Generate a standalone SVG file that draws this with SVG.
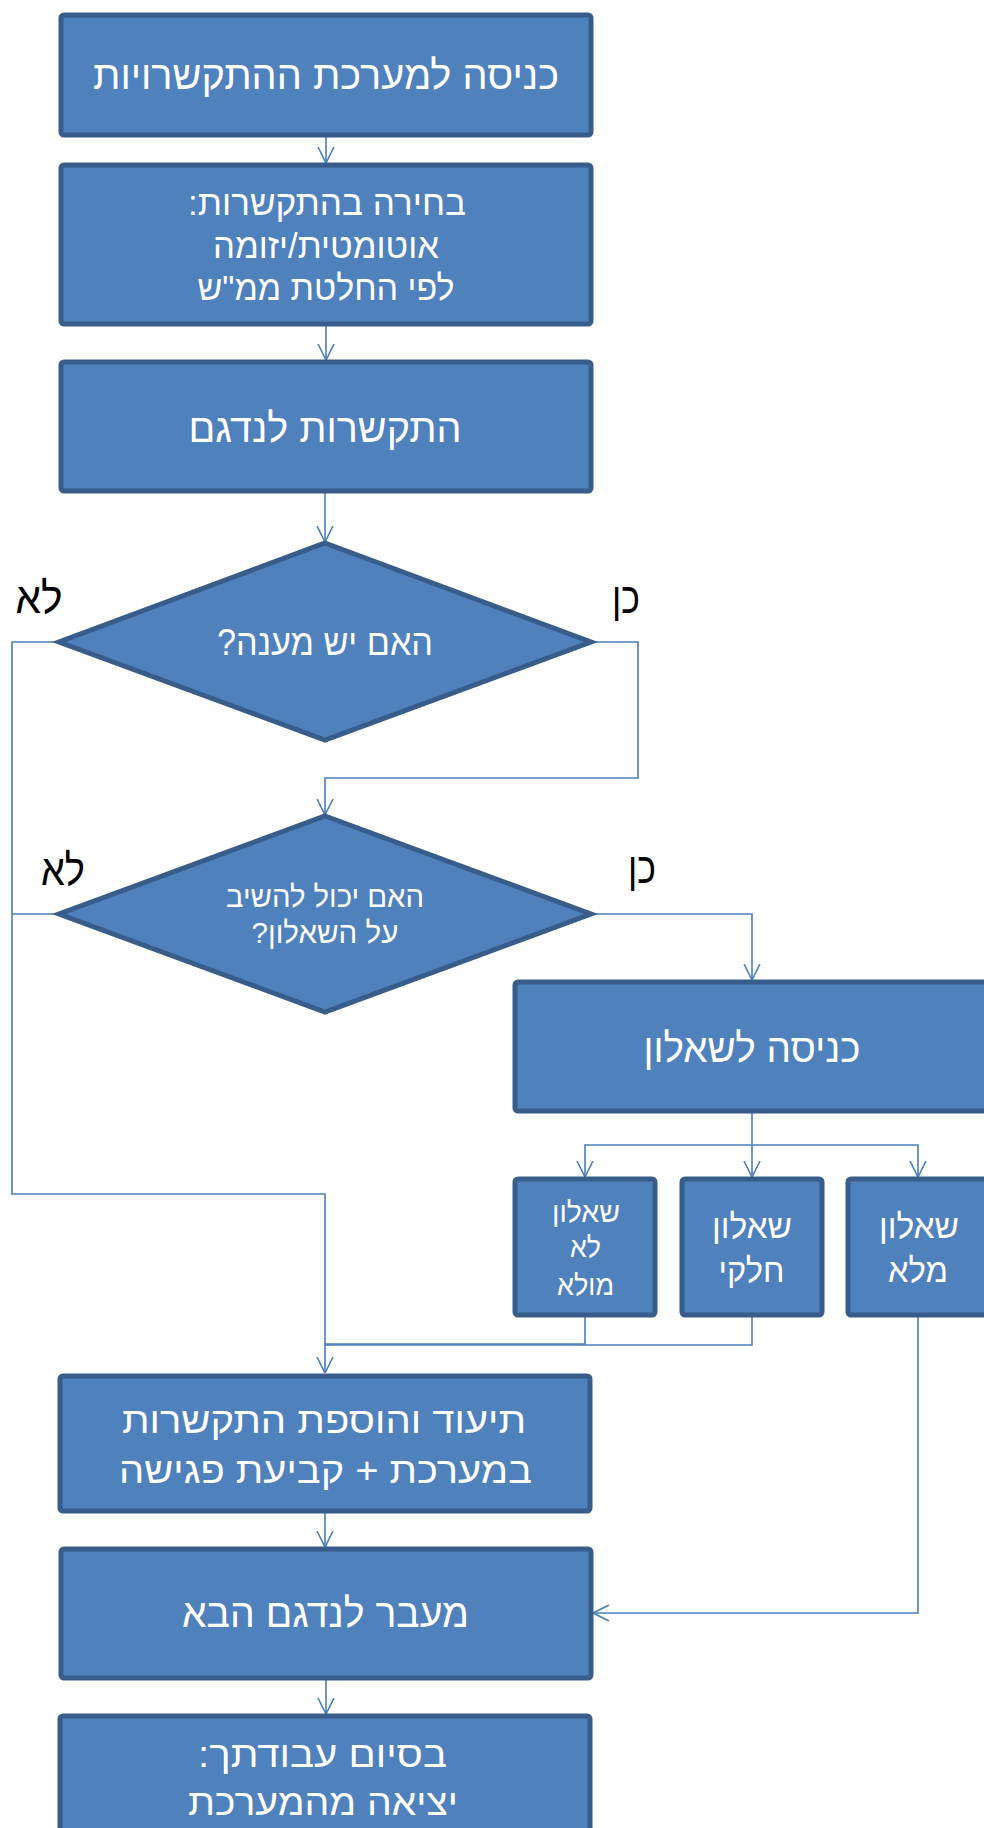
<svg xmlns="http://www.w3.org/2000/svg" width="984" height="1828" viewBox="0 0 984 1828">
  <style>
    .box { fill: #4F81BD; stroke: #385D8A; stroke-width: 5; }
    .t { fill: #FFFFFF; font-family: "Liberation Sans", "DejaVu Sans", sans-serif; text-anchor: middle; direction: rtl; }
    .lbl { fill: #000000; font-family: "Liberation Sans", "DejaVu Sans", sans-serif; text-anchor: middle; direction: rtl; font-size: 44px; }
    .c { fill: none; stroke: #4A7EBB; stroke-width: 1.6; }
  </style>
  <defs>
    <marker id="arr" viewBox="0 0 16 18" refX="16" refY="9" markerWidth="16" markerHeight="18" markerUnits="userSpaceOnUse" orient="auto">
      <path d="M0,1 L16,9 L0,17" fill="none" stroke="#4A7EBB" stroke-width="1.6"/>
    </marker>
  </defs>

  <!-- connectors -->
  <g id="connectors">
    <path class="c" d="M326,137 V163" marker-end="url(#arr)"/>
    <path class="c" d="M326,326 V360" marker-end="url(#arr)"/>
    <path class="c" d="M325,493 V542" marker-end="url(#arr)"/>
    <path class="c" d="M591,642 H638 V778 H325 V815" marker-end="url(#arr)"/>
    <path class="c" d="M59,642 H12 V1194 H325 V1373" marker-end="url(#arr)"/>
    <path class="c" d="M591,914 H752 V980" marker-end="url(#arr)"/>
    <path class="c" d="M59,914 H12"/>
    <path class="c" d="M752,1113 V1177" marker-end="url(#arr)"/>
    <path class="c" d="M752,1145 H585 V1177" marker-end="url(#arr)"/>
    <path class="c" d="M752,1145 H918 V1177" marker-end="url(#arr)"/>
    <path class="c" d="M585,1316 V1344 H325"/>
    <path class="c" d="M752,1316 V1345 H325"/>
    <path class="c" d="M918,1316 V1613 H593" marker-end="url(#arr)"/>
    <path class="c" d="M325,1513 V1547" marker-end="url(#arr)"/>
    <path class="c" d="M326,1680 V1714" marker-end="url(#arr)"/>
  </g>

  <g id="enter-system">
    <rect class="box" x="61" y="15" width="530" height="120" rx="3"/>
    <text class="t" x="326" y="89" font-size="40" textLength="466" lengthAdjust="spacingAndGlyphs">כניסה למערכת ההתקשרויות</text>
  </g>

  <g id="choose-contact">
    <rect class="box" x="61" y="165" width="530" height="159" rx="3"/>
    <text class="t" x="327" y="215" font-size="35" textLength="278" lengthAdjust="spacingAndGlyphs">בחירה בהתקשרות:</text>
    <text class="t" x="326" y="258" font-size="35" textLength="226" lengthAdjust="spacingAndGlyphs">אוטומטית/יזומה</text>
    <text class="t" x="326" y="300" font-size="35" textLength="257" lengthAdjust="spacingAndGlyphs">לפי החלטת ממ"ש</text>
  </g>

  <g id="contact-sample">
    <rect class="box" x="61" y="362" width="530" height="129" rx="3"/>
    <text class="t" x="325" y="442" font-size="40" textLength="273" lengthAdjust="spacingAndGlyphs">התקשרות לנדגם</text>
  </g>

  <g id="answered">
    <polygon class="box" points="325,543 591,642 325,740 59,642"/>
    <text class="t" x="325" y="655" font-size="36" textLength="216" lengthAdjust="spacingAndGlyphs">האם יש מענה?</text>
    <text class="lbl" x="39" y="613" textLength="47" lengthAdjust="spacingAndGlyphs">לא</text>
    <text class="lbl" x="626" y="613" textLength="28" lengthAdjust="spacingAndGlyphs">כן</text>
  </g>

  <g id="can-answer">
    <polygon class="box" points="325,816 591,914 325,1012 59,914"/>
    <text class="t" x="325" y="907" font-size="30" textLength="198" lengthAdjust="spacingAndGlyphs">האם יכול להשיב</text>
    <text class="t" x="325" y="943" font-size="30" textLength="147" lengthAdjust="spacingAndGlyphs">על השאלון?</text>
    <text class="lbl" x="63" y="885" textLength="44" lengthAdjust="spacingAndGlyphs">לא</text>
    <text class="lbl" x="642" y="883" textLength="28" lengthAdjust="spacingAndGlyphs">כן</text>
  </g>

  <g id="enter-questionnaire">
    <rect class="box" x="515" y="982" width="476" height="129" rx="3"/>
    <text class="t" x="752" y="1062" font-size="40" textLength="217" lengthAdjust="spacingAndGlyphs">כניסה לשאלון</text>
  </g>

  <g id="q-not-filled">
    <rect class="box" x="515" y="1179" width="140" height="136" rx="3"/>
    <text class="t" x="586" y="1222" font-size="29" textLength="68" lengthAdjust="spacingAndGlyphs">שאלון</text>
    <text class="t" x="585.5" y="1257" font-size="29" textLength="31" lengthAdjust="spacingAndGlyphs">לא</text>
    <text class="t" x="585.5" y="1295" font-size="29" textLength="57" lengthAdjust="spacingAndGlyphs">מולא</text>
  </g>

  <g id="q-partial">
    <rect class="box" x="682" y="1179" width="140" height="136" rx="3"/>
    <text class="t" x="752" y="1238" font-size="34" textLength="80" lengthAdjust="spacingAndGlyphs">שאלון</text>
    <text class="t" x="751.5" y="1282" font-size="34" textLength="66" lengthAdjust="spacingAndGlyphs">חלקי</text>
  </g>

  <g id="q-full">
    <rect class="box" x="848" y="1179" width="140" height="136" rx="3"/>
    <text class="t" x="919" y="1238" font-size="34" textLength="80" lengthAdjust="spacingAndGlyphs">שאלון</text>
    <text class="t" x="918" y="1282" font-size="34" textLength="60" lengthAdjust="spacingAndGlyphs">מלא</text>
  </g>

  <g id="document">
    <rect class="box" x="60" y="1376" width="530" height="135" rx="3"/>
    <text class="t" x="324" y="1433" font-size="37" textLength="404" lengthAdjust="spacingAndGlyphs">תיעוד והוספת התקשרות</text>
    <text class="t" x="325.5" y="1483" font-size="37" textLength="413" lengthAdjust="spacingAndGlyphs">במערכת + קביעת פגישה</text>
  </g>

  <g id="next-sample">
    <rect class="box" x="61" y="1549" width="530" height="129" rx="3"/>
    <text class="t" x="325.5" y="1627" font-size="40" textLength="287" lengthAdjust="spacingAndGlyphs">מעבר לנדגם הבא</text>
  </g>

  <g id="finish">
    <rect class="box" x="60" y="1716" width="530" height="140" rx="3"/>
    <text class="t" x="322.5" y="1767" font-size="37" textLength="249" lengthAdjust="spacingAndGlyphs">בסיום עבודתך:</text>
    <text class="t" x="323" y="1815" font-size="37" textLength="270" lengthAdjust="spacingAndGlyphs">יציאה מהמערכת</text>
  </g>
</svg>
